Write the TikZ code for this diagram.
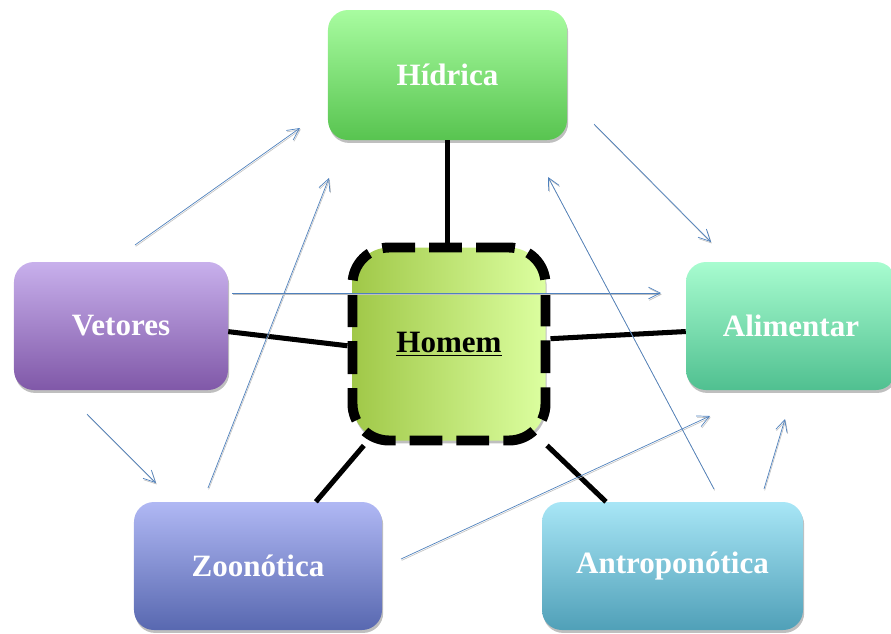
\documentclass[tikz,border=0pt]{standalone}
\usepackage{fontspec}
\setmainfont{Liberation Serif}
\usetikzlibrary{arrows.meta, shadows}

\definecolor{hidA}{RGB}{168,252,160}
\definecolor{hidB}{RGB}{88,196,80}
\definecolor{vetA}{RGB}{200,176,236}
\definecolor{vetB}{RGB}{128,88,168}
\definecolor{aliA}{RGB}{168,252,208}
\definecolor{aliB}{RGB}{80,192,144}
\definecolor{zooA}{RGB}{176,184,244}
\definecolor{zooB}{RGB}{88,104,176}
\definecolor{antA}{RGB}{168,230,246}
\definecolor{antB}{RGB}{80,160,184}
\definecolor{homA}{RGB}{160,200,72}
\definecolor{homB}{RGB}{220,255,160}
\definecolor{azul}{RGB}{79,129,189}

\begin{document}
\begin{tikzpicture}[x=0.03cm, y=-0.03cm,
    caixa/.style={rectangle, rounded corners=0.6cm, inner sep=0pt, text=white,
        font=\fontsize{26.5}{30}\selectfont\bfseries, minimum height=3.84cm,
        drop shadow={shadow xshift=1pt, shadow yshift=-2.5pt, fill=black, opacity=0.25}},
    ligacao/.style={line width=4.3pt, black},
    seta/.style={draw=azul, line width=0.6pt, -{Straight Barb[length=10pt,width=10pt]},
        preaction={draw=black!25, line width=0.5pt, transform canvas={xshift=0.6pt, yshift=-1.2pt}}}]
    \useasboundingbox (0,0) rectangle (891,633);

    % Caixas
    \node[caixa, top color=hidA, bottom color=hidB, minimum width=7.17cm, minimum height=3.9cm] (hid) at (447.5,75) {Hídrica};
    \node[caixa, top color=vetA, bottom color=vetB, minimum width=6.42cm] (vet) at (121,326) {Vetores};
    \node[caixa, top color=aliA, bottom color=aliB, minimum width=6.3cm] (ali) at (791,326) {Alimentar};
    \node[caixa, top color=zooA, bottom color=zooB, minimum width=7.44cm] (zoo) at (258,566) {Zoonótica};
    \node[caixa, top color=antA, bottom color=antB, minimum width=7.83cm] (ant) at (672.5,566) {Antroponótica};

    % Homem no centro
    \node[rectangle, rounded corners=1.1cm, minimum size=5.79cm, inner sep=0pt,
        left color=homA, right color=homB, draw=black, line width=8.5pt,
        dash pattern=on 28pt off 12pt,
        drop shadow={shadow xshift=1pt, shadow yshift=-2.5pt, fill=black, opacity=0.25},
        font=\fontsize{26.5}{30}\selectfont\bfseries] (hom) at (449,344) {\underline{Homem}};

    % Ligações
    \draw[ligacao] (hid.south) -- (hid.south |- hom.north);
    \draw[ligacao] (vet.-3) -- (hom.181);
    \draw[ligacao] (hom.3) -- (ali.183);
    \draw[ligacao] (hom.230) -- (zoo.48);
    \draw[ligacao] (hom.-46) -- (ant.136);

    % Setas finas
    \coordinate (a1) at (135,245);  \coordinate (b1) at (300,128);
    \coordinate (a2) at (208,488);  \coordinate (b2) at (329,178);
    \coordinate (a3) at (232,293);  \coordinate (b3) at (661,293);
    \coordinate (a4) at (594,124);  \coordinate (b4) at (711,242);
    \coordinate (a5) at (87,414);   \coordinate (b5) at (156,483);
    \coordinate (a6) at (401,559);  \coordinate (b6) at (710,416);
    \coordinate (a7) at (714,489);  \coordinate (b7) at (548,177);
    \coordinate (a8) at (764,489);  \coordinate (b8) at (785,419);
    \draw[seta] (a1) -- (b1);
    \draw[seta] (a2) -- (b2);
    \draw[seta] (a3) -- (b3);
    \draw[seta] (a4) -- (b4);
    \draw[seta] (a5) -- (b5);
    \draw[seta] (a6) -- (b6);
    \draw[seta] (a7) -- (b7);
    \draw[seta] (a8) -- (b8);
\end{tikzpicture}
\end{document}
